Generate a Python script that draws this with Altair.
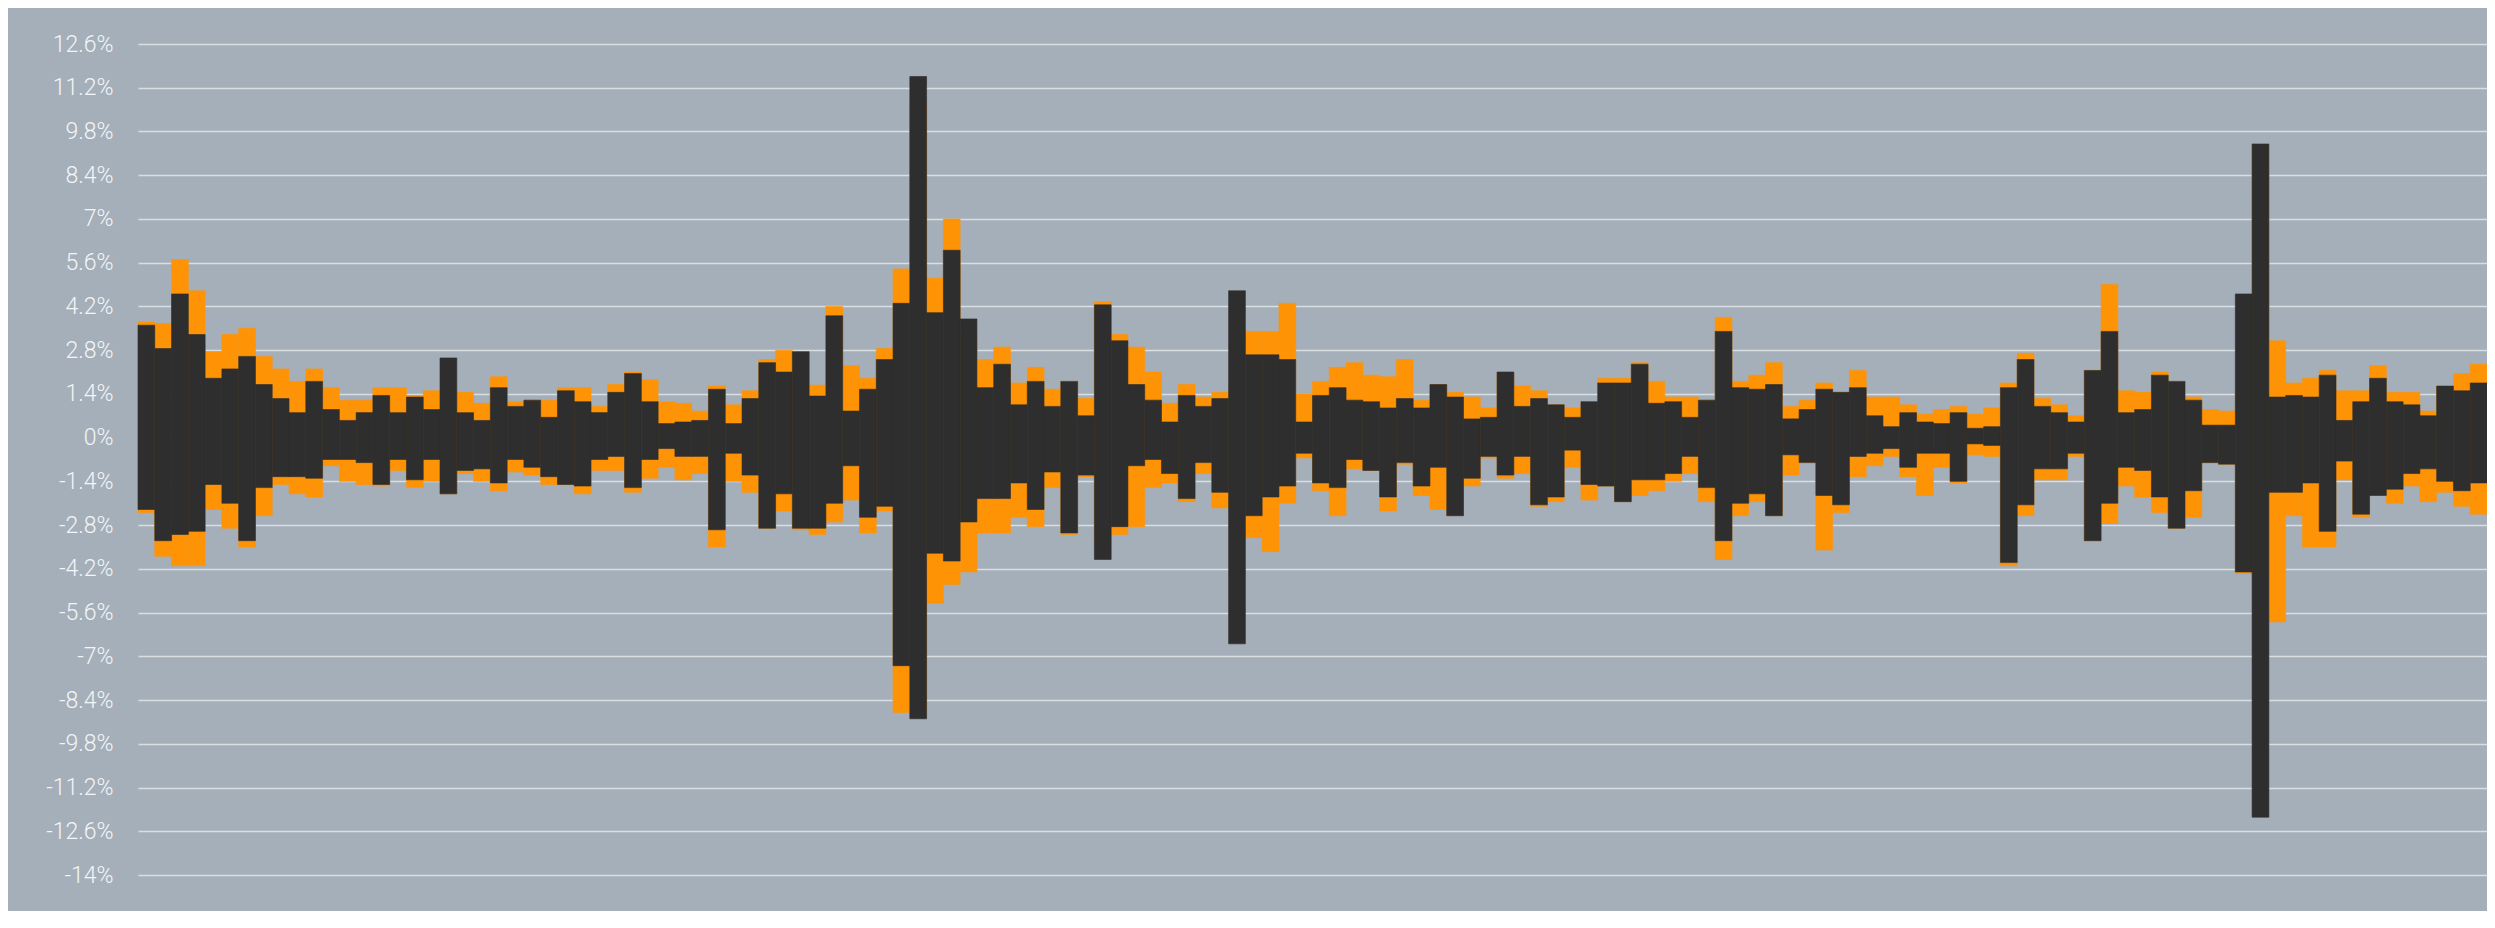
import altair as alt
import pandas as pd

# Per-slot return ranges (percent), left to right
dark_hi = [3.6, 2.85, 4.6, 3.3, 1.9, 2.2, 2.6, 1.7, 1.25, 0.8,
           1.8, 0.9, 0.55, 0.8, 1.35, 0.8, 1.3, 0.9, 2.55, 0.8,
           0.55, 1.6, 1.0, 1.2, 0.65, 1.5, 1.15, 0.8, 1.45, 2.05,
           1.15, 0.45, 0.5, 0.55, 1.55, 0.45, 1.25, 2.4, 2.1, 2.75,
           1.33, 3.9, 0.85, 1.55, 2.5, 4.3, 11.56, 4.0, 6.0, 3.8,
           1.6, 2.35, 1.05, 1.8, 1.0, 1.8, 0.7, 4.25, 3.1, 1.7,
           1.2, 0.5, 1.35, 1.0, 1.25, 4.7, 2.65, 2.65, 2.5, 0.5,
           1.35, 1.6, 1.2, 1.15, 0.95, 1.25, 0.95, 1.7, 1.3, 0.6,
           0.65, 2.1, 1.0, 1.25, 1.05, 0.65, 1.15, 1.75, 1.75, 2.35,
           1.1, 1.15, 0.65, 1.2, 3.4, 1.6, 1.55, 1.7, 0.6, 0.9,
           1.55, 1.45, 1.6, 0.7, 0.35, 0.8, 0.5, 0.45, 0.8, 0.3,
           0.35, 1.6, 2.5, 1.0, 0.8, 0.5, 2.15, 3.4, 0.8, 0.9,
           2.0, 1.8, 1.2, 0.4, 0.4, 4.6, 9.4, 1.3, 1.35, 1.3,
           2.0, 0.55, 1.15, 1.9, 1.15, 1.05, 0.7, 1.65, 1.5, 1.75]
dark_lo = [-2.3, -3.3, -3.1, -3.0, -1.5, -2.1, -3.3, -1.6, -1.25, -1.25,
           -1.3, -0.7, -0.7, -0.8, -1.5, -0.7, -1.35, -0.7, -1.8, -1.05,
           -1.0, -1.45, -0.7, -0.95, -1.25, -1.5, -1.55, -0.7, -0.6, -1.6,
           -0.7, -0.35, -0.6, -0.6, -2.95, -0.5, -1.2, -2.9, -1.8, -2.9,
           -2.9, -2.1, -0.9, -2.55, -2.2, -7.3, -9.0, -3.7, -3.95, -2.7,
           -1.95, -1.95, -1.45, -2.3, -1.1, -3.05, -1.2, -3.9, -2.85, -0.9,
           -0.7, -1.15, -1.95, -0.8, -1.75, -6.6, -2.5, -1.9, -1.55, -0.5,
           -1.45, -1.6, -0.7, -1.05, -1.9, -0.8, -1.55, -0.95, -2.5, -1.3,
           -0.6, -1.2, -0.6, -2.15, -1.9, -0.4, -1.5, -1.55, -2.05, -1.35,
           -1.35, -1.15, -0.6, -1.6, -3.3, -2.1, -1.8, -2.5, -0.55, -0.8,
           -1.85, -2.15, -0.6, -0.5, -0.35, -0.95, -0.5, -0.5, -1.4, -0.2,
           -0.25, -4.0, -2.15, -1.0, -1.0, -0.5, -3.3, -2.1, -0.95, -1.05,
           -1.9, -2.9, -1.7, -0.8, -0.85, -4.3, -12.15, -1.75, -1.75, -1.45,
           -3.0, -0.75, -2.45, -1.85, -1.65, -1.15, -1.0, -1.4, -1.7, -1.45]
orange_hi = [3.7, 3.65, 5.7, 4.7, 2.75, 3.3, 3.5, 2.6, 2.2, 1.8,
             2.2, 1.6, 1.2, 1.2, 1.6, 1.6, 1.35, 1.5, 1.6, 1.45,
             1.1, 1.95, 1.15, 1.2, 1.2, 1.6, 1.6, 1.0, 1.7, 2.1,
             1.85, 1.15, 1.1, 0.85, 1.65, 1.05, 1.5, 2.5, 2.8, 2.75,
             1.68, 4.2, 2.3, 1.9, 2.85, 5.4, 10.75, 5.1, 7.0, 3.35,
             2.5, 2.9, 1.75, 2.25, 1.55, 1.8, 1.25, 4.35, 3.3, 2.9,
             2.1, 1.1, 1.7, 1.3, 1.45, 1.55, 3.4, 3.4, 4.3, 1.4,
             1.8, 2.25, 2.4, 2.0, 1.95, 2.5, 1.2, 1.7, 1.45, 1.3,
             0.95, 2.1, 1.65, 1.5, 1.05, 0.95, 1.15, 1.9, 1.9, 2.4,
             1.8, 1.3, 1.3, 1.2, 3.85, 1.8, 2.0, 2.4, 1.0, 1.2,
             1.75, 1.45, 2.15, 1.3, 1.3, 1.05, 0.75, 0.9, 1.0, 0.75,
             0.95, 1.75, 2.7, 1.25, 1.05, 0.7, 2.15, 4.9, 1.5, 1.45,
             2.1, 1.8, 1.3, 0.9, 0.85, 1.45, 9.35, 3.1, 1.75, 1.9,
             2.15, 1.5, 1.5, 2.3, 1.45, 1.45, 0.85, 1.65, 2.05, 2.35]
orange_lo = [-2.4, -3.8, -4.1, -4.1, -2.3, -2.9, -3.5, -2.5, -1.5, -1.8,
             -1.9, -0.9, -1.4, -1.5, -1.55, -1.05, -1.6, -1.4, -1.8, -1.15,
             -1.4, -1.7, -1.1, -1.2, -1.5, -1.5, -1.8, -1.05, -1.05, -1.75,
             -1.3, -0.95, -1.35, -1.15, -3.5, -1.4, -1.75, -2.9, -2.35, -2.95,
             -3.1, -2.7, -2.0, -3.05, -2.35, -8.8, -8.9, -5.3, -4.7, -4.3,
             -3.05, -3.05, -2.55, -2.85, -1.6, -3.1, -1.25, -3.3, -3.1, -2.85,
             -1.6, -1.45, -2.05, -1.15, -2.25, -2.1, -3.2, -3.65, -2.1, -0.65,
             -1.7, -2.5, -1.0, -1.05, -2.35, -0.85, -1.85, -2.3, -2.5, -1.55,
             -0.65, -1.3, -1.15, -2.2, -2.05, -0.95, -2.0, -1.55, -2.05, -1.85,
             -1.7, -1.4, -1.15, -2.05, -3.9, -2.5, -2.05, -2.5, -1.2, -0.8,
             -3.6, -2.4, -1.25, -0.9, -0.6, -1.25, -1.85, -0.95, -1.45, -0.55,
             -0.6, -4.1, -2.5, -1.35, -1.35, -0.6, -3.3, -2.75, -1.55, -1.9,
             -2.4, -2.9, -2.55, -0.8, -0.85, -4.35, -4.45, -5.9, -2.5, -3.5,
             -3.5, -1.35, -2.55, -1.85, -2.1, -1.55, -2.05, -1.75, -2.2, -2.45]

# Gridline positions (every 0.7 %), labels on every second one
grid_values = [round(-14 + 0.7 * k, 1) for k in range(39)]

slots = list(range(len(dark_hi)))
orange_df = pd.DataFrame({"i": slots, "i2": [s + 1 for s in slots],
                          "lo": orange_lo, "hi": orange_hi})
dark_df = pd.DataFrame({"i": slots, "i2": [s + 1 for s in slots],
                        "lo": dark_lo, "hi": dark_hi})

ORANGE = "#FF9306"
DARK = "#2E2E2E"
BG = "#A4AFBA"

x_enc = alt.X("i:Q", scale=alt.Scale(domain=[0, len(slots)], nice=False, zero=False), axis=None)
y_scale = alt.Scale(domain=[-14, 12.6], nice=False, zero=False)
y_axis = alt.Axis(
    values=grid_values,
    labelExpr="abs(round(datum.value*10)) % 14 == 0 ? (round(datum.value*10)/10) + '%' : ''",
    grid=True, gridColor="#D9DEE3", gridWidth=1.6,
    domain=False, ticks=False,
    labelFontSize=23, labelColor="#F3F5F7", labelFont="Roboto", labelFontWeight=300,
    labelPadding=25, labelOverlap=False, labelFlush=False, labelBound=False,
    title=None,
)

orange = alt.Chart(orange_df).mark_rect(color=ORANGE, stroke=ORANGE, strokeWidth=0.6).encode(
    x=x_enc, x2="i2:Q",
    y=alt.Y("lo:Q", scale=y_scale, axis=y_axis), y2="hi:Q",
)
dark = alt.Chart(dark_df).mark_rect(color=DARK, stroke=DARK, strokeWidth=0.6).encode(
    x=x_enc, x2="i2:Q",
    y=alt.Y("lo:Q", scale=y_scale), y2="hi:Q",
)

chart = alt.layer(orange, dark).properties(
    width=2349, height=831,
    padding={"left": 130, "top": 36, "right": 0, "bottom": 36},
    autosize=alt.AutoSizeParams(type="none"),
    background=BG,
).configure_view(stroke=None)

chart.save("out.html", embed_options={"renderer": "svg", "actions": False})
